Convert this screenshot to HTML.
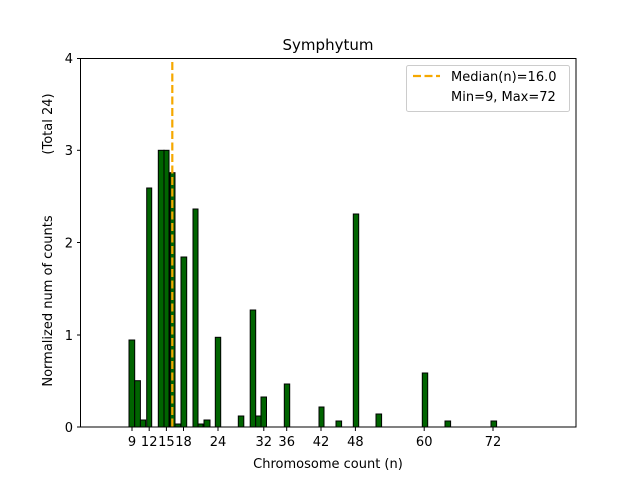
<!DOCTYPE html>
<html><head><meta charset="utf-8"><style>html,body{margin:0;padding:0;background:#fff}svg{display:block}text{font-family:"DejaVu Sans","Liberation Sans",sans-serif;fill:#000}</style></head>
<body>
<svg width="640" height="480" viewBox="0 0 640 480" xmlns="http://www.w3.org/2000/svg">
<rect width="640" height="480" fill="#fff"/>
<g fill="#006400" stroke="#000" stroke-width="1">
<rect x="129" y="340" width="5.7" height="87"/>
<rect x="134.7" y="380.7" width="5.7" height="46.3"/>
<rect x="140.4" y="420" width="5.3" height="7"/>
<rect x="146.7" y="188" width="5" height="239"/>
<rect x="158.3" y="150.3" width="5.7" height="276.7"/>
<rect x="164" y="150.3" width="5" height="276.7"/>
<rect x="170" y="172.7" width="5" height="254.3"/>
<rect x="175" y="424" width="5.7" height="3"/>
<rect x="181" y="257" width="5.7" height="170"/>
<rect x="193" y="209" width="5" height="218"/>
<rect x="198" y="424" width="5" height="3"/>
<rect x="204" y="420" width="6" height="7"/>
<rect x="215.3" y="337.3" width="5.4" height="89.7"/>
<rect x="238.3" y="416" width="5.5" height="11"/>
<rect x="250.2" y="310" width="5.5" height="117"/>
<rect x="255.7" y="416" width="5.3" height="11"/>
<rect x="261" y="397" width="5.5" height="30"/>
<rect x="284.3" y="384" width="5.4" height="43"/>
<rect x="319" y="407" width="5" height="20"/>
<rect x="336" y="421" width="5.6" height="6"/>
<rect x="353.3" y="214" width="5.4" height="213"/>
<rect x="376" y="414" width="5.6" height="13"/>
<rect x="422.3" y="373" width="5.4" height="54"/>
<rect x="445" y="421" width="5.6" height="6"/>
<rect x="491" y="421" width="5.6" height="6"/>
</g>
<line x1="172.3" y1="62" x2="172.3" y2="427" stroke="#f5a800" stroke-width="2.2" stroke-dasharray="8,3.5"/>
<rect x="80.5" y="58.5" width="495.5" height="368.5" fill="none" stroke="#000" stroke-width="1"/>
<g stroke="#000" stroke-width="1">
<line x1="80.5" y1="427" x2="77" y2="427"/><line x1="80.5" y1="335" x2="77" y2="335"/><line x1="80.5" y1="242.5" x2="77" y2="242.5"/><line x1="80.5" y1="150.3" x2="77" y2="150.3"/><line x1="80.5" y1="58.5" x2="77" y2="58.5"/>
<line x1="132" y1="427" x2="132" y2="431"/><line x1="149.2" y1="427" x2="149.2" y2="431"/><line x1="166.4" y1="427" x2="166.4" y2="431"/><line x1="183.5" y1="427" x2="183.5" y2="431"/><line x1="218" y1="427" x2="218" y2="431"/><line x1="263.8" y1="427" x2="263.8" y2="431"/><line x1="286.7" y1="427" x2="286.7" y2="431"/><line x1="321" y1="427" x2="321" y2="431"/><line x1="355.4" y1="427" x2="355.4" y2="431"/><line x1="424.2" y1="427" x2="424.2" y2="431"/><line x1="493" y1="427" x2="493" y2="431"/>
</g>
<g font-size="13" text-anchor="end">
<text x="73" y="432">0</text><text x="73" y="340">1</text><text x="73" y="247.5">2</text><text x="73" y="155">3</text><text x="73" y="63">4</text>
</g>
<g font-size="13" text-anchor="middle">
<text x="132" y="446">9</text><text x="149.2" y="446">12</text><text x="166.4" y="446">15</text><text x="183.5" y="446">18</text><text x="218" y="446">24</text><text x="263.8" y="446">32</text><text x="286.7" y="446">36</text><text x="321" y="446">42</text><text x="355.4" y="446">48</text><text x="424.2" y="446">60</text><text x="493" y="446">72</text>
</g>
<text x="328" y="468" font-size="13" text-anchor="middle">Chromosome count (n)</text>
<text x="328" y="50" font-size="15" text-anchor="middle">Symphytum</text>
<text transform="translate(52,301) rotate(-90)" font-size="13" text-anchor="middle">Normalized num of counts</text>
<text transform="translate(52,124) rotate(-90)" font-size="13" text-anchor="middle">(Total 24)</text>
<rect x="406.5" y="65.5" width="163" height="46" rx="2" fill="#fff" stroke="#ccc"/>
<line x1="413" y1="76" x2="440" y2="76" stroke="#f5a800" stroke-width="2.2" stroke-dasharray="8,3.5"/>
<text x="451" y="81" font-size="13">Median(n)=16.0</text>
<text x="451" y="101" font-size="13">Min=9, Max=72</text>
</svg>
</body></html>
